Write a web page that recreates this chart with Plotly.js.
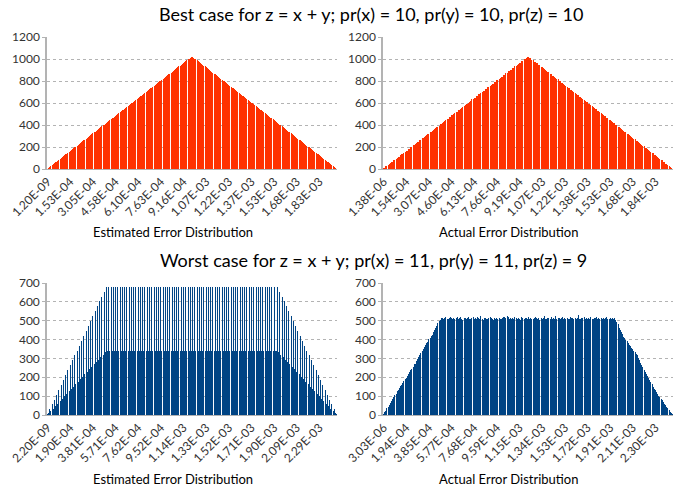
<!DOCTYPE html>
<html>
<head>
<meta charset="utf-8">
<script src="https://cdn.plot.ly/plotly-3.0.1.min.js"></script>
<style>html,body{margin:0;padding:0;background:#fff;}#chart{width:686px;height:491px;}</style>
</head>
<body>
<div id="chart"></div>
<script>
// ---- Data (counts per error bin) ----
const bestEstimated = [
4,12,20,28,36,44,52,60,68,76,84,92,100,108,116,124,
132,140,148,156,164,172,180,188,196,204,212,220,228,236,244,252,
260,268,276,284,292,300,308,316,324,332,340,348,356,364,372,380,
388,396,404,412,420,428,436,444,452,460,468,476,484,492,500,508,
516,524,532,540,548,556,564,572,580,588,596,604,612,620,628,636,
644,652,660,668,676,684,692,700,708,716,724,732,740,748,756,764,
772,780,788,796,804,812,820,828,836,844,852,860,868,876,884,892,
900,908,916,924,932,940,948,956,964,972,980,988,996,1004,1012,1020,
1020,1012,1004,996,988,980,972,964,956,948,940,932,924,916,908,900,
892,884,876,868,860,852,844,836,828,820,812,804,796,788,780,772,
764,756,748,740,732,724,716,708,700,692,684,676,668,660,652,644,
636,628,620,612,604,596,588,580,572,564,556,548,540,532,524,516,
508,500,492,484,476,468,460,452,444,436,428,420,412,404,396,388,
380,372,364,356,348,340,332,324,316,308,300,292,284,276,268,260,
252,244,236,228,220,212,204,196,188,180,172,164,156,148,140,132,
124,116,108,100,92,84,76,68,60,52,44,36,28,20,12,4];

const bestActual = [
6,10,23,27,37,48,51,61,66,79,84,95,99,112,113,128,
133,138,150,153,166,168,183,186,199,201,215,218,231,233,247,249,
263,265,280,282,290,302,305,318,321,335,338,350,352,368,369,385,
386,395,407,410,421,425,440,441,455,454,470,473,489,488,503,507,
515,522,535,536,550,552,565,570,578,592,593,602,613,618,632,634,
645,650,662,665,678,683,695,697,710,712,726,730,741,742,758,760,
774,777,790,792,806,808,822,825,838,840,855,856,870,872,887,889,
902,904,919,918,935,933,950,952,966,968,983,985,1000,1003,1013,1022,
1018,1008,1006,993,990,977,974,962,960,945,943,930,927,914,912,898,
893,882,879,866,862,850,846,834,830,818,814,802,798,786,782,770,
766,754,750,738,734,722,718,706,702,690,686,674,670,658,654,642,
638,626,622,610,606,594,590,578,574,562,558,546,542,530,526,514,
510,498,494,482,478,466,462,450,446,434,430,418,414,402,398,386,
382,370,366,354,350,338,334,322,318,306,302,290,286,274,270,258,
254,242,238,226,222,210,206,194,190,178,174,162,158,146,142,130,
126,114,110,98,94,82,78,66,62,50,46,34,30,18,12,4];

const worstEstimated = [
4,8,30,21,56,34,82,47,108,60,134,73,160,86,186,99,212,112,238,125,264,138,290,151,316,164,342,177,368,190,394,203,420,216,446,229,472,242,498,255,524,268,550,281,576,294,602,307,628,320,654,333,680,340,
680,340,680,340,680,340,680,340,680,340,680,340,680,340,680,340,680,340,680,340,
680,340,680,340,680,340,680,340,680,340,680,340,680,340,680,340,680,340,680,340,
680,340,680,340,680,340,680,340,680,340,680,340,680,340,680,340,680,340,680,340,
680,340,680,340,680,340,680,340,680,340,680,340,680,340,680,340,680,340,680,340,
680,340,680,340,680,340,680,340,680,340,680,340,680,340,680,340,680,340,680,340,
680,340,680,340,680,340,680,340,680,340,680,340,680,340,680,340,680,340,680,340,
680,340,680,340,680,340,680,340,680,340,680,340,680,340,680,340,680,340,680,340,
680,340,680,340,680,340,680,340,
340,680,333,654,320,628,307,602,294,576,281,550,268,524,255,498,242,472,229,446,216,420,203,394,190,368,177,342,164,316,151,290,138,264,125,238,112,212,99,186,86,160,73,134,60,108,47,82,34,56,21,30,8,4];

const worstActual = [
4,14,22,36,44,53,66,74,85,93,104,113,125,132,141,152,
160,171,178,190,198,207,219,228,238,246,255,268,273,287,296,305,
318,330,338,350,361,372,380,389,401,410,418,425,440,452,462,474,
486,496,505,512,516,509,514,518,511,508,515,520,512,507,516,510,
514,519,508,512,521,510,506,517,513,509,516,522,511,508,514,518,
510,515,507,519,512,509,523,511,506,514,517,510,508,513,519,512,
509,506,516,511,513,508,512,507,510,515,518,521,512,525,519,511,
516,508,514,510,522,513,509,517,511,506,520,514,508,512,516,510,
519,507,513,511,508,515,521,512,509,514,506,517,510,513,525,511,
508,516,512,510,519,507,514,511,523,509,513,515,508,512,518,510,
514,509,516,511,507,520,512,513,509,517,510,515,528,511,508,514,
512,519,509,513,507,516,511,521,510,508,515,512,518,509,513,511,
516,510,514,508,512,519,511,507,515,510,513,509,512,505,494,482,
462,450,438,428,416,406,398,390,381,373,364,356,349,341,335,326,
316,303,291,278,265,253,241,229,218,207,197,186,175,163,151,140,
130,120,111,102,94,86,77,68,60,53,44,35,26,17,9,3];

// tick labels (every 20th bin)
const tickBins = [0,20,40,60,80,100,120,140,160,180,200,220,240];
const ticksBestEst = ["1.20E-09","1.53E-04","3.05E-04","4.58E-04","6.10E-04","7.63E-04","9.16E-04","1.07E-03","1.22E-03","1.37E-03","1.53E-03","1.68E-03","1.83E-03"];
const ticksBestAct = ["1.38E-06","1.54E-04","3.07E-04","4.60E-04","6.13E-04","7.66E-04","9.19E-04","1.07E-03","1.22E-03","1.38E-03","1.53E-03","1.68E-03","1.84E-03"];
const ticksWorstEst = ["2.20E-09","1.90E-04","3.81E-04","5.71E-04","7.62E-04","9.52E-04","1.14E-03","1.33E-03","1.52E-03","1.71E-03","1.90E-03","2.09E-03","2.29E-03"];
const ticksWorstAct = ["3.03E-06","1.94E-04","3.85E-04","5.77E-04","7.68E-04","9.59E-04","1.15E-03","1.34E-03","1.53E-03","1.72E-03","1.91E-03","2.11E-03","2.30E-03"];

const titleBest = "Best case for z = x + y; pr(x) = 10, pr(y) = 10, pr(z) = 10";
const titleWorst = "Worst case for z = x + y; pr(x) = 11, pr(y) = 11, pr(z) = 9";
const labelEst = "Estimated Error Distribution";
const labelAct = "Actual Error Distribution";

// ---- Styling ----
const FONT = "Lato, 'Open Sans', sans-serif";
const RED = "#ff3300";
const BLUE = "#004586";
const W = 686, H = 491;
const BAR_W = 0.883; // bar width in bin units (~1px, like the pixel-snapped original)

function idx(arr){ return arr.map((_, i) => i); }
function barTrace(vals, color, xa, ya){
  return {type:'bar', x: idx(vals), y: vals, xaxis: xa, yaxis: ya, width: BAR_W,
          marker:{color: color, line:{width:0.02, color: color}}, hoverinfo:'skip'};
}

const data = [
  barTrace(bestEstimated, RED, 'x', 'y'),
  barTrace(bestActual, RED, 'x2', 'y2'),
  barTrace(worstEstimated, BLUE, 'x3', 'y3'),
  barTrace(worstActual, BLUE, 'x4', 'y4')
];

function xAxis(domain, anchor, labels){
  return {domain: domain, anchor: anchor, range:[-0.5, 255.5], tickmode:'array',
    tickvals: tickBins, ticktext: labels, tickangle:-45, showgrid:false, zeroline:false,
    showline:true, linecolor:'#b3b3b3', linewidth:1, ticks:'', fixedrange:true,
    tickfont:{family:FONT, size:12, color:'#333333'}};
}
function yAxis(domain, anchor, max, dt){
  return {domain: domain, anchor: anchor, range:[0, max], dtick: dt, tick0:0,
    showgrid:true, gridcolor:'#b3b3b3', gridwidth:1, griddash:'3px,3px', zeroline:false,
    showline:true, linecolor:'#b3b3b3', linewidth:1.5, ticks:'outside', ticklen:3,
    tickcolor:'#b3b3b3', tickfont:{family:FONT, size:12, color:'#333333'}, fixedrange:true};
}

const xL = [47/W, 337/W], xR = [383/W, 673/W];
const yT = [(H-169)/H, (H-37)/H], yB = [(H-415)/H, (H-283)/H];

function ann(text, xpx, ypx, size){
  return {text: text, x: xpx/W, y: 1 - ypx/H, xref:'paper', yref:'paper',
    xanchor:'center', yanchor:'middle', showarrow:false,
    font:{family:FONT, size:size, color:'#000000'}};
}

const layout = {
  width: W, height: H, margin:{l:0, r:0, t:0, b:0, pad:0},
  paper_bgcolor:'#ffffff', plot_bgcolor:'#ffffff', showlegend:false,
  bargap:0, bargroupgap:0, font:{family:FONT},
  xaxis: xAxis(xL, 'y', ticksBestEst),
  yaxis: yAxis(yT, 'x', 1200, 200),
  xaxis2: xAxis(xR, 'y2', ticksBestAct),
  yaxis2: yAxis(yT, 'x2', 1200, 200),
  xaxis3: xAxis(xL, 'y3', ticksWorstEst),
  yaxis3: yAxis(yB, 'x3', 700, 100),
  xaxis4: xAxis(xR, 'y4', ticksWorstAct),
  yaxis4: yAxis(yB, 'x4', 700, 100),
  annotations: [
    ann(titleBest, 371, 14, 18),
    ann(titleWorst, 373, 260, 18),
    ann(labelEst, 173, 232, 13),
    ann(labelAct, 509, 232, 13),
    ann(labelEst, 173, 479, 13),
    ann(labelAct, 509, 479, 13)
  ]
};

Plotly.newPlot('chart', data, layout, {displayModeBar:false});
</script>
</body>
</html>
